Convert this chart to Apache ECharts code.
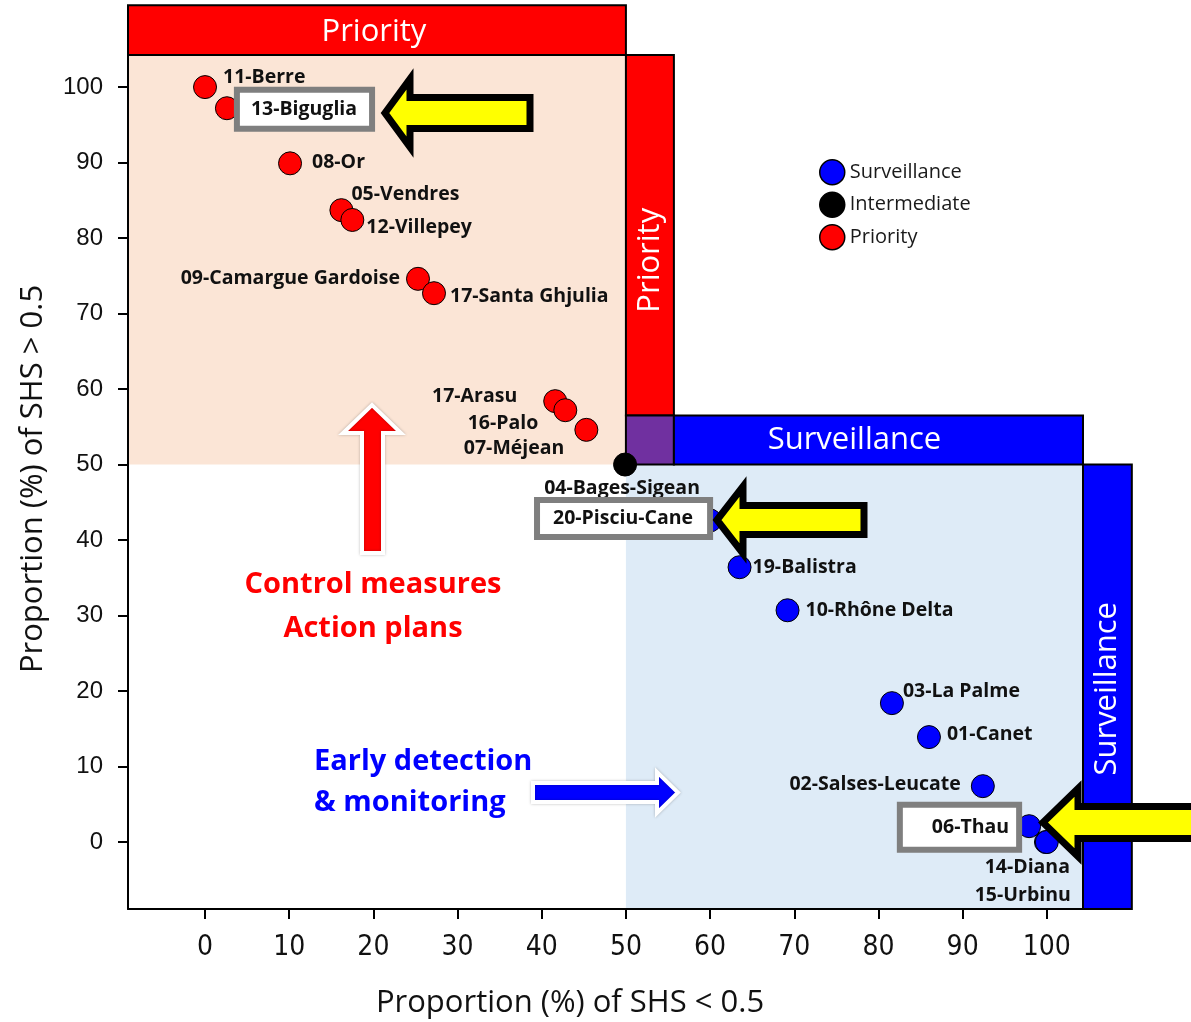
<!DOCTYPE html>
<html>
<head>
<meta charset="utf-8">
<script src="https://cdn.jsdelivr.net/npm/echarts@6/dist/echarts.min.js"></script>
<style>
  html, body { margin: 0; padding: 0; background: #ffffff; }
  #chart { width: 1191px; height: 1022px; }
</style>
</head>
<body>
<div id="chart"></div>
<script>
// ---------------- DATA ----------------
const prioritySites = ['11-Berre', '13-Biguglia', '08-Or', '05-Vendres', '12-Villepey',
  '09-Camargue Gardoise', '17-Santa Ghjulia', '17-Arasu', '16-Palo', '07-Méjean'];
const priorityX = [0, 2.6, 10.1, 16.2, 17.5, 25.3, 27.2, 41.6, 42.8, 45.3];
const priorityY = [100, 97.2, 89.9, 83.7, 82.4, 74.6, 72.7, 58.4, 57.2, 54.6];

const intermediateSites = ['04-Bages-Sigean'];
const intermediateX = [49.9];
const intermediateY = [50.0];

const surveillanceSites = ['20-Pisciu-Cane', '19-Balistra', '10-Rhône Delta', '03-La Palme',
  '01-Canet', '02-Salses-Leucate', '06-Thau', '14-Diana', '15-Urbinu'];
const surveillanceX = [60.0, 63.5, 69.2, 81.6, 86.0, 92.4, 97.9, 99.9, 100];
const surveillanceY = [42.6, 36.4, 30.7, 18.4, 13.9, 7.4, 2.1, 0, 0];

const xTicks = [0, 10, 20, 30, 40, 50, 60, 70, 80, 90, 100];
const yTicks = [0, 10, 20, 30, 40, 50, 60, 70, 80, 90, 100];
const threshold = 50;

const legendNames = ['Surveillance', 'Intermediate', 'Priority'];
const xTitle = 'Proportion (%) of SHS < 0.5';
const yTitle = 'Proportion (%) of SHS > 0.5';

// ---------------- LAYOUT / STYLE ----------------
const X_MIN = -9.15, X_MAX = 104.3, Y_MIN = -8.87, Y_MAX = 104.25;
const BAND_W = 5.7, BAND_H = 6.5, TOP_BAND_H = 6.6, RIGHT_BAND_W = 5.8;

const RED = '#FF0000', BLUE = '#0000FF', BLACK = '#000000', PURPLE = '#7030A0';
const PEACH = '#FBE5D6', LIGHTBLUE = '#DEEBF7', YELLOW = '#FFFF00', GREY = '#7F7F7F';
const FONT = '"Open Sans", Lato, sans-serif';

// label placement: [align, dx, dy] in px from the point centre
const labelLayout = {
  '11-Berre': ['left', 18, -10],
  '13-Biguglia': ['left', 13, 1],
  '08-Or': ['left', 22, -1],
  '05-Vendres': ['left', 10, -16],
  '12-Villepey': ['left', 14, 7],
  '09-Camargue Gardoise': ['right', -18, 0],
  '17-Santa Ghjulia': ['left', 16, 3],
  '17-Arasu': ['right', -38, -5],
  '16-Palo': ['right', -27, 13],
  '07-Méjean': ['right', -22, 19],
  '04-Bages-Sigean': ['center', -3, 24],
  '20-Pisciu-Cane': ['right', -3, -2],
  '19-Balistra': ['left', 13, 0],
  '10-Rhône Delta': ['left', 18, 0],
  '03-La Palme': ['left', 11, -12],
  '01-Canet': ['left', 18, -3],
  '02-Salses-Leucate': ['right', -22, -2],
  '06-Thau': ['right', -13, 1],
  '14-Diana': ['right', 24, 25],
  '15-Urbinu': ['right', 24, 53]
};
// highlighted (boxed) labels: padding
const boxedLabels = {
  '13-Biguglia': [5, 12, 5, 11],
  '20-Pisciu-Cane': [4, 14, 4, 13],
  '06-Thau': [8, 7, 8, 29]
};

function buildPoints(names, xs, ys) {
  return names.map(function (n, i) {
    const lay = labelLayout[n] || ['left', 14, 0];
    const label = {
      show: true,
      position: 'inside',
      formatter: n,
      align: lay[0],
      verticalAlign: 'middle',
      offset: [lay[1], lay[2]],
      color: '#111111',
      fontFamily: FONT,
      fontWeight: 'bold',
      fontSize: 19.5,
      lineHeight: 23,
      textBorderWidth: 0
    };
    if (boxedLabels[n]) {
      label.backgroundColor = '#ffffff';
      label.borderColor = GREY;
      label.borderWidth = 6;
      label.padding = boxedLabels[n];
    }
    return { name: n, value: [xs[i], ys[i]], label: label };
  });
}

// region rectangles [x0, x1, y0, y1]
const T = threshold;
const regionRects = [
  [X_MIN, T, T, Y_MAX],
  [T, X_MAX, Y_MIN, T],
  [X_MIN, T, Y_MAX, Y_MAX + TOP_BAND_H],
  [T, T + BAND_W, T + BAND_H, Y_MAX],
  [T, T + BAND_W, T, T + BAND_H],
  [T + BAND_W, X_MAX, T, T + BAND_H],
  [X_MAX, X_MAX + RIGHT_BAND_W, Y_MIN, T]
];
const regionStyles = [
  { fill: PEACH },
  { fill: LIGHTBLUE },
  { fill: RED, stroke: BLACK, text: 'Priority', vertical: false, dx: -3, dy: 2 },
  { fill: RED, stroke: BLACK, text: 'Priority', vertical: true, dx: 0, dy: 25 },
  { fill: PURPLE, stroke: BLACK },
  { fill: BLUE, stroke: BLACK, text: 'Surveillance', vertical: false, dx: -24, dy: 0 },
  { fill: BLUE, stroke: BLACK, text: 'Surveillance', vertical: true, dx: 0, dy: 2 }
];

function renderRegion(params, api) {
  const st = regionStyles[params.dataIndex];
  const p0 = api.coord([api.value(0), api.value(3)]);
  const p1 = api.coord([api.value(1), api.value(2)]);
  const children = [{
    type: 'rect',
    shape: { x: p0[0], y: p0[1], width: p1[0] - p0[0], height: p1[1] - p0[1] },
    style: { fill: st.fill, stroke: st.stroke || null, lineWidth: st.stroke ? 2 : 0 }
  }];
  if (st.text) {
    children.push({
      type: 'text',
      x: (p0[0] + p1[0]) / 2 + st.dx,
      y: (p0[1] + p1[1]) / 2 + st.dy,
      rotation: st.vertical ? Math.PI / 2 : 0,
      style: {
        text: st.text, fill: '#ffffff', font: '31px ' + FONT,
        align: 'center', verticalAlign: 'middle'
      }
    });
  }
  return { type: 'group', children: children };
}

function leftArrow(tipX, tipY, backX, headHalf, shaftHalf, tailX) {
  return [[tipX, tipY], [backX, tipY - headHalf], [backX, tipY - shaftHalf],
    [tailX, tipY - shaftHalf], [tailX, tipY + shaftHalf], [backX, tipY + shaftHalf],
    [backX, tipY + headHalf]];
}

const chart = echarts.init(document.getElementById('chart'), null, { renderer: 'canvas' });

const option = {
  backgroundColor: '#ffffff',
  animation: false,
  grid: { left: 128, right: 108, top: 55, bottom: 113, containLabel: false, outerBoundsMode: 'none' },
  xAxis: {
    type: 'value', min: X_MIN, max: X_MAX, z: 5,
    splitLine: { show: false },
    axisLine: { show: true, onZero: false, lineStyle: { color: '#000', width: 2 } },
    axisTick: { show: true, customValues: xTicks, length: 10, lineStyle: { color: '#000', width: 2 } },
    axisLabel: {
      customValues: xTicks, margin: 25, color: '#111',
      fontSize: 28, fontFamily: '"Liberation Sans Narrow", "DejaVu Sans Condensed", sans-serif'
    }
  },
  yAxis: {
    type: 'value', min: Y_MIN, max: Y_MAX, z: 5,
    splitLine: { show: false },
    axisLine: { show: true, onZero: false, lineStyle: { color: '#000', width: 2 } },
    axisTick: { show: true, customValues: yTicks, length: 10, lineStyle: { color: '#000', width: 2 } },
    axisLabel: {
      customValues: yTicks, margin: 25, color: '#111',
      fontSize: 24, fontFamily: '"Liberation Sans", Arial, sans-serif'
    }
  },
  legend: {
    data: legendNames,
    orient: 'vertical',
    left: 819, top: 159, padding: 0,
    itemWidth: 25, itemHeight: 25, itemGap: 6,
    icon: 'circle',
    itemStyle: { borderColor: '#000', borderWidth: 1.5 },
    textStyle: { fontSize: 20, lineHeight: 22, fontFamily: FONT, color: '#1a1a1a', padding: [0, 0, 0, 0] },
    selectedMode: false
  },
  series: [
    {
      type: 'custom', name: 'regions', z: 1, clip: false, silent: true,
      renderItem: renderRegion,
      encode: { x: [0, 1], y: [2, 3] },
      data: regionRects
    },
    {
      type: 'scatter', name: 'Priority', z: 10, symbolSize: 23,
      itemStyle: { color: RED, borderColor: '#000', borderWidth: 1, opacity: 1 },
      data: buildPoints(prioritySites, priorityX, priorityY)
    },
    {
      type: 'scatter', name: 'Intermediate', z: 10, symbolSize: 23,
      itemStyle: { color: BLACK, borderColor: '#000', borderWidth: 1, opacity: 1 },
      data: buildPoints(intermediateSites, intermediateX, intermediateY)
    },
    {
      type: 'scatter', name: 'Surveillance', z: 10, symbolSize: 23,
      itemStyle: { color: BLUE, borderColor: '#000', borderWidth: 1, opacity: 1 },
      data: buildPoints(surveillanceSites, surveillanceX, surveillanceY)
    }
  ],
  graphic: [
    // axis titles
    { type: 'text', z: 50, x: 570, y: 1003,
      style: { text: xTitle, font: '31px ' + FONT, fill: '#111', align: 'center', verticalAlign: 'middle' } },
    { type: 'text', z: 50, x: 33, y: 479, rotation: Math.PI / 2,
      style: { text: yTitle, font: '31px ' + FONT, fill: '#111', align: 'center', verticalAlign: 'middle' } },
    // annotation texts
    { type: 'text', z: 50, x: 373, y: 585,
      style: { text: 'Control measures', font: 'bold 29px ' + FONT, fill: RED, align: 'center', verticalAlign: 'middle' } },
    { type: 'text', z: 50, x: 373, y: 629,
      style: { text: 'Action plans', font: 'bold 29px ' + FONT, fill: RED, align: 'center', verticalAlign: 'middle' } },
    { type: 'text', z: 50, x: 314, y: 762,
      style: { text: 'Early detection', font: 'bold 29px ' + FONT, fill: BLUE, align: 'left', verticalAlign: 'middle' } },
    { type: 'text', z: 50, x: 314, y: 803,
      style: { text: '& monitoring', font: 'bold 29px ' + FONT, fill: BLUE, align: 'left', verticalAlign: 'middle' } },
    // red up arrow
    { type: 'polygon', z: 50,
      shape: { points: [[362, 553], [362, 433], [343, 433], [372, 405], [401, 433], [383, 433], [383, 553]] },
      style: { fill: RED, stroke: '#ffffff', lineWidth: 4, shadowBlur: 3, shadowColor: 'rgba(0,0,0,0.25)' } },
    // blue right arrow
    { type: 'polygon', z: 50,
      shape: { points: [[533, 783], [657, 783], [657, 772], [678, 792.5], [657, 813], [657, 802], [533, 802]] },
      style: { fill: BLUE, stroke: '#ffffff', lineWidth: 4, shadowBlur: 3, shadowColor: 'rgba(0,0,0,0.25)' } },
    // yellow highlight arrows
    { type: 'polygon', z: 60,
      shape: { points: leftArrow(385, 113, 410, 34, 15.5, 530) },
      style: { fill: YELLOW, stroke: '#000', lineWidth: 7, lineJoin: 'miter' } },
    { type: 'polygon', z: 60,
      shape: { points: leftArrow(717, 520, 743, 33.5, 14.5, 864) },
      style: { fill: YELLOW, stroke: '#000', lineWidth: 7, lineJoin: 'miter' } },
    { type: 'polygon', z: 60,
      shape: { points: leftArrow(1043, 822.5, 1078, 34, 16, 1205) },
      style: { fill: YELLOW, stroke: '#000', lineWidth: 7, lineJoin: 'miter' } }
  ]
};

chart.setOption(option);
</script>
</body>
</html>
